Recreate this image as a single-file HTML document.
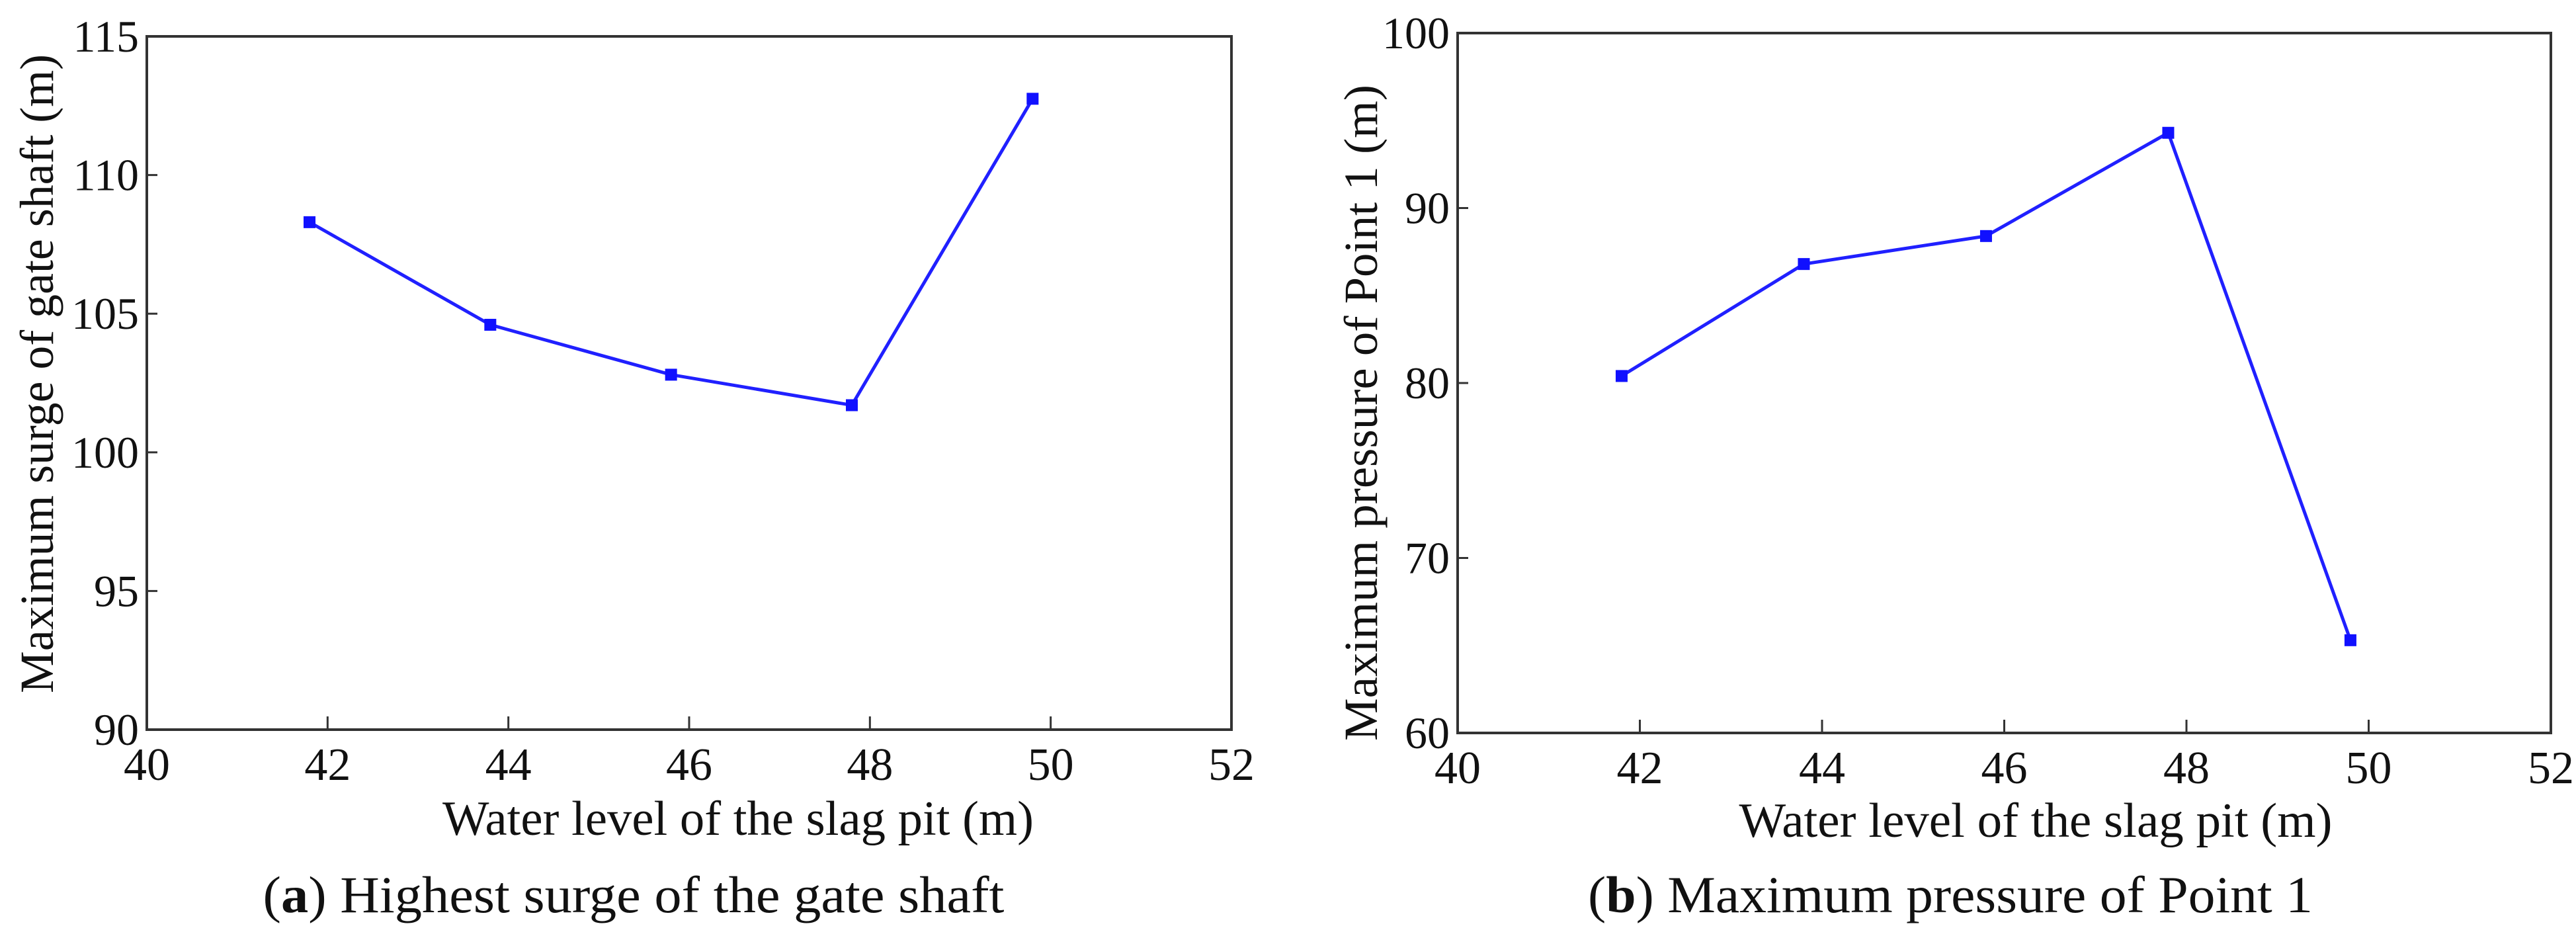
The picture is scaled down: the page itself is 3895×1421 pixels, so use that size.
<!DOCTYPE html>
<html><head><meta charset="utf-8"><style>
body{margin:0;background:#fff}
svg{display:block}
text{font-family:"Liberation Serif",serif;fill:#111}
</style></head><body>
<svg id="s" width="3895" height="1421" viewBox="0 0 3895 1421"></svg>
<script>
const xTicks=[40,42,44,46,48,50,52];
const xValues=[41.8,43.8,45.8,47.8,49.8];
const surgeValues=[108.3,104.6,102.8,101.7,112.75];
const surgeTicks=[90,95,100,105,110,115];
const pressureValues=[80.4,86.8,88.4,94.3,65.3];
const pressureTicks=[60,70,80,90,100];
const NS='http://www.w3.org/2000/svg';
const svg=document.getElementById('s');
function mk(tag,attrs,parent,txt){const e=document.createElementNS(NS,tag);for(const k in attrs)e.setAttribute(k,attrs[k]);if(txt!==undefined)e.textContent=txt;(parent||svg).appendChild(e);return e;}
function panel(cfg){
  const g=mk('g',{});
  
  
  const {L,R,T,B}=cfg;
  const ymin=cfg.yt[0],ymax=cfg.yt[cfg.yt.length-1];
  const sx=v=>L+(v-xTicks[0])/(xTicks[xTicks.length-1]-xTicks[0])*(R-L);
  const sy=v=>B-(v-ymin)/(ymax-ymin)*(B-T);
  const fr=mk('rect',{x:L,y:T,width:R-L,height:B-T,fill:'none',stroke:'#333','stroke-width':4},g);
  
  
  xTicks.forEach(v=>{
    const x=sx(v);
    const tk=mk('line',{x1:x,x2:x,y1:B,y2:B-20,stroke:'#333','stroke-width':3},g);
    
    
    const t=mk('text',{x:x,y:B+76,'font-size':70,'text-anchor':'middle'},g,String(v));
    
    
  });
  cfg.yt.forEach(v=>{
    const y=sy(v);
    const tk=mk('line',{x1:L,x2:L+16,y1:y,y2:y,stroke:'#333','stroke-width':3},g);
    
    
    const t=mk('text',{x:L-12,y:y+23,'font-size':68,'text-anchor':'end'},g,String(v));
    
    
  });
  const pts=xValues.map((x,i)=>sx(x)+','+sy(cfg.vals[i])).join(' ');
  const ln=mk('polyline',{points:pts,fill:'none',stroke:'#2020ff','stroke-width':5},g);
  
  
  xValues.forEach((x,i)=>{
    const m=mk('rect',{x:sx(x)-9,y:sy(cfg.vals[i])-9,width:18,height:18,fill:'#1010ff'},g);
    
    
  });
  const xt=mk('text',{x:cfg.xtx,y:cfg.xty,'font-size':74,'text-anchor':'middle',textLength:cfg.xtl,lengthAdjust:'spacingAndGlyphs'},g,'Water level of the slag pit (m)');
  
  
  const yt=mk('text',{x:0,y:0,'font-size':72,'text-anchor':'middle',textLength:cfg.ytl,lengthAdjust:'spacingAndGlyphs',transform:`translate(${cfg.ytx},${cfg.yty}) rotate(-90)`},g,cfg.ytitle);
  
  
  const cap=mk('text',{x:cfg.cx,y:1379,'font-size':78,'text-anchor':'middle',textLength:cfg.cl,lengthAdjust:'spacingAndGlyphs'},g);
  
  
  mk('tspan',{},cap,'(');
  mk('tspan',{'font-weight':'bold'},cap,cfg.letter);
  mk('tspan',{},cap,') '+cfg.caption);
}
panel({name:'panel-a-gate-shaft-surge',L:222,R:1862,T:55,B:1103,yt:surgeTicks,vals:surgeValues,
  xtx:1116,xty:1262,xtl:894,ytx:80,yty:565,ytl:966,ytitle:'Maximum surge of gate shaft (m)',
  cx:958,cl:1121,letter:'a',caption:'Highest surge of the gate shaft'});
panel({name:'panel-b-point1-pressure',L:2204,R:3857,T:50,B:1108,yt:pressureTicks,vals:pressureValues,
  xtx:3078,xty:1265,xtl:897,ytx:2082,yty:624,ytl:992,ytitle:'Maximum pressure of Point 1 (m)',
  cx:2949,cl:1096,letter:'b',caption:'Maximum pressure of Point 1'});
</script>
</body></html>
